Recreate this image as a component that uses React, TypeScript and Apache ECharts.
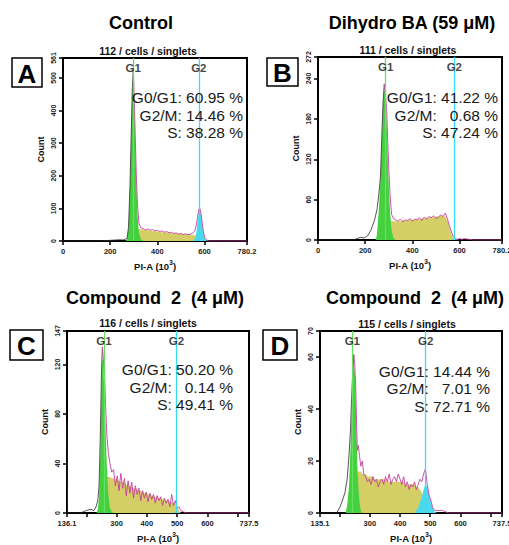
import React, { useEffect, useRef } from "react";
import * as echarts from "echarts";

// ---------------- Panel A : Control ----------------
const xsA = [0,150,200,220,240,255,265,272,278,284,289,294,298,302,306,311,316,322,330,340,350,360,370,380,390,400,410,420,430,440,450,460,470,480,490,500,510,520,530,540,550,558,565,571,576,581,586,591,597,603,610,620,650,780.2];
const rawA = [0,0,2,3,4,3,6,8,45,170,320,470,525,440,330,200,110,55,40,38,34,37,33,35,31,33,29,31,27,29,25,27,23,25,21,23,20,22,19,21,24,30,48,75,98,100,80,50,22,8,2,0,0,0];
const g1XA = [265,272,278,284,289,294,298,302,306,311,316,322,330,340];
const g1YA = [0,5,40,160,310,460,510,430,310,175,80,25,5,0];
const sXA = [272,278,284,289,294,298,302,306,311,316,322,330,340,350,360,370,380,390,400,410,420,430,440,450,460,470,480,490,500,510,520,530,540,550,558,565,571,576,581,586,591];
const sYA = [0,8,18,26,32,35,36,37,37,37,36,36,35,34,33,32,31,30,29,28,27,27,26,25,24,24,23,22,22,21,21,20,20,19,17,14,10,6,3,1,0];
const g2XA = [552,558,565,571,576,581,586,591,597,603,610,616];
const g2YA = [0,5,25,60,88,95,76,46,18,5,1,0];
const xLabelsA = [0,200,400,600,780.2];
const yLabelsA = [0,100,200,300,400,500,561];
const statsA = ["G0/G1: 60.95 %", "G2/M: 14.46 %", "S: 38.28 %"];

// ---------------- Panel B : Dihydro BA ----------------
const xsB = [0,150,180,195,210,225,240,250,258,265,271,276,281,286,291,296,301,306,312,320,330,340,350,360,370,380,390,400,410,420,430,440,450,460,470,480,490,500,510,520,530,540,550,558,566,574,582,590,600,610,620,640,660,780.2];
const rawB = [0,0,4,3,6,15,30,45,68,95,160,205,232,215,195,145,100,65,38,32,30,28,31,27,30,29,32,28,31,30,33,29,34,31,35,33,36,32,34,37,35,40,30,20,12,5,2,1,2,1,2,1,0,0];
const g1XB = [245,250,258,265,271,276,281,286,291,296,301,306,312,320,328];
const g1YB = [0,8,45,90,150,200,226,210,175,120,75,40,14,3,0];
const sXB = [265,271,276,281,286,291,296,301,306,312,320,330,340,350,360,370,380,390,400,410,420,430,440,450,460,470,480,490,500,510,520,530,540,550,558,566,574,582];
const sYB = [0,6,12,18,22,24,26,27,28,28,28,28,28,28,29,29,29,30,30,30,31,31,32,32,33,33,34,34,35,35,36,36,35,28,18,9,3,0];
const g2XB = [566,574,582,590,598];
const g2YB = [0,2,2,1,0];
const xLabelsB = [0,200,400,600,780.2];
const yLabelsB = [0,60,120,180,240,272];
const statsB = ["G0/G1: 41.22 %", "G2/M:   0.68 %", "S: 47.24 %"];

// ---------------- Panel C : Compound 2 ----------------
const xsC = [136.1,138,180,200,215,225,232,238,242,246,250,253,256,260,264,268,273,278,284,290,296,302,308,314,320,326,332,338,344,350,356,362,368,374,380,386,392,398,404,410,416,422,428,434,440,446,452,458,464,470,476,482,488,494,500,506,512,520,530,600,737.5];
const rawC = [73,0,0,2,3,2,5,10,22,60,115,134,125,110,85,62,48,40,33,35,22,30,18,32,20,28,14,26,16,25,12,22,15,20,10,18,12,17,9,16,11,15,8,14,10,13,6,12,8,11,5,15,6,10,4,5,2,1,0,0,0];
const g1XC = [234,238,242,246,250,253,256,260,264,268,273,278,284,290];
const g1YC = [0,3,12,45,100,125,120,95,65,36,14,4,1,0];
const sXC = [240,246,250,253,256,260,264,268,273,278,284,290,296,302,308,314,320,326,332,338,344,350,356,362,368,374,380,386,392,398,404,410,416,422,428,434,440,446,452,458,464,470,476,482,488,494,500,506,512];
const sYC = [0,8,15,20,24,27,28,29,29,29,28,28,27,27,26,25,25,24,23,22,22,21,20,20,19,18,18,17,16,16,15,15,14,14,13,13,12,12,11,11,10,10,9,9,8,7,5,2,0];
const g2XC = [488,494,500,506,512];
const g2YC = [0,1,1,0.5,0];
const xLabelsC = [136.1,300,400,500,600,737.5];
const xTicksC = [136.1,200,300,400,500,600,700,737.5];
const yLabelsC = [0,40,80,120,147];
const statsC = ["G0/G1: 50.20 %", "G2/M:   0.14 %", "S: 49.41 %"];

// ---------------- Panel D : Compound 2 ----------------
const xsD = [135.1,190,200,210,218,225,231,236,240,244,247,250,253,256,259,262,266,270,275,280,286,292,298,304,310,316,322,328,334,340,346,352,358,364,370,376,382,388,394,400,406,412,418,424,430,436,442,448,454,460,466,472,478,484,490,496,502,508,515,525,540,560,737.5];
const rawD = [0,0,2,5,8,13,22,32,45,55,61,57,50,35,24,26,22,18,20,15,14,12,13,11,14,12,13,10,12,13,11,14,12,15,11,13,14,12,15,13,11,14,10,12,9,11,10,12,9,11,13,12,15,17,11,7,5,2,1,1,1,0,0];
const g1XD = [220,225,231,236,240,244,247,250,253,256,259,262,266,270,275];
const g1YD = [0,3,10,25,40,52,57,54,45,30,18,10,4,1,0];
const sXD = [226,231,236,240,244,247,250,253,256,259,262,266,270,275,280,286,292,298,304,310,316,322,328,334,340,346,352,358,364,370,376,382,388,394,400,406,412,418,424,430,436,442,448,454,460,466,472,478,484,490,496,502];
const sYD = [0,4,7,9,11,12,13,14,15,15,16,16,16,15,15,15,14,14,14,14,13,13,13,13,13,13,13,12,12,12,12,12,12,12,12,12,12,11,11,11,11,11,11,10,10,9,8,6,4,2,1,0];
const g2XD = [448,454,460,466,472,478,484,490,496,502,508,515,522];
const g2YD = [0,1,2,4,6,9,11,10,7,4,2,0.5,0];
const xLabelsD = [135.1,300,400,500,600,737.5];
const xTicksD = [135.1,200,300,400,500,600,700,737.5];
const yLabelsD = [0,20,40,60,70];
const statsD = ["G0/G1: 14.44 %", "G2/M:   7.01 %", "S: 72.71 %"];

const FONT = "'Liberation Sans', Arial, Helvetica, sans-serif";
const GREEN = "#45d040";
const YELLOW = "#d3cf66";
const CYAN = "#4ad9ee";
const GREEN_LINE = "#66e060";
const CYAN_LINE = "#35def2";
const MAGENTA = "#c8409e";
const DARK = "#2a2a2a";

const panels = [
  {
    xs: xsA, raw: rawA, g1x: g1XA, g1y: g1YA, sx: sXA, sy: sYA, g2x: g2XA, g2y: g2YA,
    xMin: 0, xMax: 780.2, yMax: 561, xLabels: xLabelsA, xTicks: xLabelsA, yLabels: yLabelsA,
    g1Pos: 298, g2Pos: 576, stats: statsA,
    title: "Control", sub: "112 / cells / singlets", letter: "A",
    grid: { left: 63, top: 58, width: 184, height: 183 },
    titleXY: [141, 23], subXY: [148, 51], box: [12, 58, 30, 29], statsX: 243, statsY: [97, 115, 132],
  },
  {
    xs: xsB, raw: rawB, g1x: g1XB, g1y: g1YB, sx: sXB, sy: sYB, g2x: g2XB, g2y: g2YB,
    xMin: 0, xMax: 780.2, yMax: 272, xLabels: xLabelsB, xTicks: xLabelsB, yLabels: yLabelsB,
    g1Pos: 287, g2Pos: 578, stats: statsB,
    title: "Dihydro BA (59 \u03bcM)", sub: "111 / cells / singlets", letter: "B",
    grid: { left: 318, top: 57, width: 184, height: 183 },
    titleXY: [412, 23], subXY: [408, 50], box: [267, 58, 31, 28], statsX: 498, statsY: [97, 115, 132],
  },
  {
    xs: xsC, raw: rawC, g1x: g1XC, g1y: g1YC, sx: sXC, sy: sYC, g2x: g2XC, g2y: g2YC,
    xMin: 136.1, xMax: 737.5, yMax: 147, xLabels: xLabelsC, xTicks: xTicksC, yLabels: yLabelsC,
    g1Pos: 258, g2Pos: 498, stats: statsC,
    title: "Compound  2  (4 \u03bcM)", sub: "116 / cells / singlets", letter: "C",
    grid: { left: 67, top: 331, width: 182, height: 182 },
    titleXY: [155, 298], subXY: [148, 323], box: [10, 330, 33, 30], statsX: 233, statsY: [369, 387, 404],
  },
  {
    xs: xsD, raw: rawD, g1x: g1XD, g1y: g1YD, sx: sXD, sy: sYD, g2x: g2XD, g2y: g2YD,
    xMin: 135.1, xMax: 737.5, yMax: 70, xLabels: xLabelsD, xTicks: xTicksD, yLabels: yLabelsD,
    g1Pos: 242, g2Pos: 485, stats: statsD,
    title: "Compound  2  (4 \u03bcM)", sub: "115 / cells / singlets", letter: "D",
    grid: { left: 320, top: 331, width: 182, height: 182 },
    titleXY: [415, 298], subXY: [407, 324], box: [263, 330, 34, 30], statsX: 490, statsY: [371, 388, 406],
  },
];

function txt(x: number, y: number, text: string, font: string, align: string, fill = "#111") {
  return {
    type: "text", x, y, z: 100,
    style: { text, font, fill, align, textAlign: align, verticalAlign: "middle", textVerticalAlign: "middle" },
  };
}

function buildOption() {
  const grid: any[] = [];
  const xAxis: any[] = [];
  const yAxis: any[] = [];
  const series: any[] = [];
  const graphic: any[] = [];

  panels.forEach((p, i) => {
    grid.push({
      ...p.grid, show: true, borderColor: "#000", borderWidth: 2, backgroundColor: "transparent",
      containLabel: false, outerBoundsMode: "none",
    });
    xAxis.push({
      gridIndex: i, type: "value", min: p.xMin, max: p.xMax,
      axisLine: { show: true, onZero: false, lineStyle: { color: "#000", width: 2 } },
      axisTick: { show: true, length: 4, inside: false, lineStyle: { color: "#000", width: 1.5 }, customValues: p.xTicks },
      axisLabel: { customValues: p.xLabels, fontSize: 7.5, fontWeight: "bold", color: "#222", margin: 6, fontFamily: FONT },
      splitLine: { show: false },
      name: "PI-A (10{sup|3})", nameLocation: "middle", nameGap: 18,
      nameTextStyle: {
        fontSize: 9.5, fontWeight: "bold", color: "#111", fontFamily: FONT,
        rich: { sup: { fontSize: 6.5, fontWeight: "bold", color: "#111", fontFamily: FONT, padding: [0, 0, 7, 0] } },
      },
    });
    yAxis.push({
      gridIndex: i, type: "value", min: 0, max: p.yMax,
      axisLine: { show: true, onZero: false, lineStyle: { color: "#000", width: 2 } },
      axisTick: { show: true, length: 4, lineStyle: { color: "#000", width: 1.5 }, customValues: p.yLabels },
      axisLabel: { customValues: p.yLabels, rotate: 90, fontSize: 7, fontWeight: "bold", color: "#222", margin: 6, fontFamily: FONT },
      splitLine: { show: false },
      name: "Count", nameLocation: "middle", nameGap: 18,
      nameTextStyle: { fontSize: 9, fontWeight: "bold", color: "#111", fontFamily: FONT },
    });

    const area = (xs: number[], ys: number[], color: string) => ({
      type: "line", xAxisIndex: i, yAxisIndex: i, silent: true, symbol: "none",
      data: xs.map((x, k) => [x, ys[k]]),
      lineStyle: { width: 0, opacity: 0 },
      areaStyle: { color, opacity: 1 },
    });
    series.push(area(p.sx, p.sy, YELLOW));
    series.push(area(p.g1x, p.g1y, GREEN));
    series.push(area(p.g2x, p.g2y, CYAN));

    const peak = Math.max(...p.raw);
    const cutX = p.xs[p.raw.indexOf(peak)];
    const pts = p.xs.map((x, k) => [x, p.raw[k]]);
    series.push({
      type: "line", xAxisIndex: i, yAxisIndex: i, silent: true, symbol: "none",
      data: pts.filter((d) => d[0] <= cutX),
      lineStyle: { color: DARK, width: 0.8 },
    });
    series.push({
      type: "line", xAxisIndex: i, yAxisIndex: i, silent: true, symbol: "none",
      data: pts.filter((d) => d[0] >= cutX),
      lineStyle: { color: MAGENTA, width: 0.9 },
    });

    series.push({
      type: "scatter", xAxisIndex: i, yAxisIndex: i, silent: true, symbolSize: 1,
      itemStyle: { color: "transparent" }, z: 10,
      data: [[p.g1Pos, p.yMax * 0.945], [p.g2Pos, p.yMax * 0.945]],
      label: {
        show: true, position: "inside", fontSize: 11.5, fontWeight: "bold", color: "#111", fontFamily: FONT,
        formatter: (q: any) => (q.dataIndex === 0 ? "G1" : "G2"),
      },
      markLine: {
        silent: true, symbol: "none", label: { show: false }, animation: false,
        data: [
          { xAxis: p.g1Pos, lineStyle: { color: GREEN_LINE, width: 1.3, type: "solid" } },
          { xAxis: p.g2Pos, lineStyle: { color: CYAN_LINE, width: 1.3, type: "solid" } },
        ],
      },
    });

    graphic.push(txt(p.titleXY[0], p.titleXY[1], p.title, `bold 18px ${FONT}`, "center", "#000"));
    graphic.push(txt(p.subXY[0], p.subXY[1], p.sub, `bold 10.5px ${FONT}`, "center", "#111"));
    graphic.push({
      type: "rect", z: 100,
      shape: { x: p.box[0], y: p.box[1], width: p.box[2], height: p.box[3] },
      style: { fill: "#fff", stroke: "#000", lineWidth: 1.5 },
    });
    graphic.push(txt(p.box[0] + p.box[2] / 2, p.box[1] + p.box[3] / 2 + 1, p.letter, `bold 26px ${FONT}`, "center", "#000"));
    p.stats.forEach((s, k) => {
      graphic.push(txt(p.statsX, p.statsY[k], s, `15.5px ${FONT}`, "right", "#1a1a1a"));
    });
  });

  return { animation: false, grid, xAxis, yAxis, series, graphic };
}

export default function App() {
  const ref = useRef<HTMLDivElement>(null);
  useEffect(() => {
    if (!ref.current) return;
    const chart = echarts.init(ref.current, null, { renderer: "svg" });
    chart.setOption(buildOption() as any);
    return () => chart.dispose();
  }, []);
  return (
    <div
      ref={ref}
      style={{ position: "absolute", left: 0, top: 0, width: 509, height: 545, background: "#fff" }}
    />
  );
}
